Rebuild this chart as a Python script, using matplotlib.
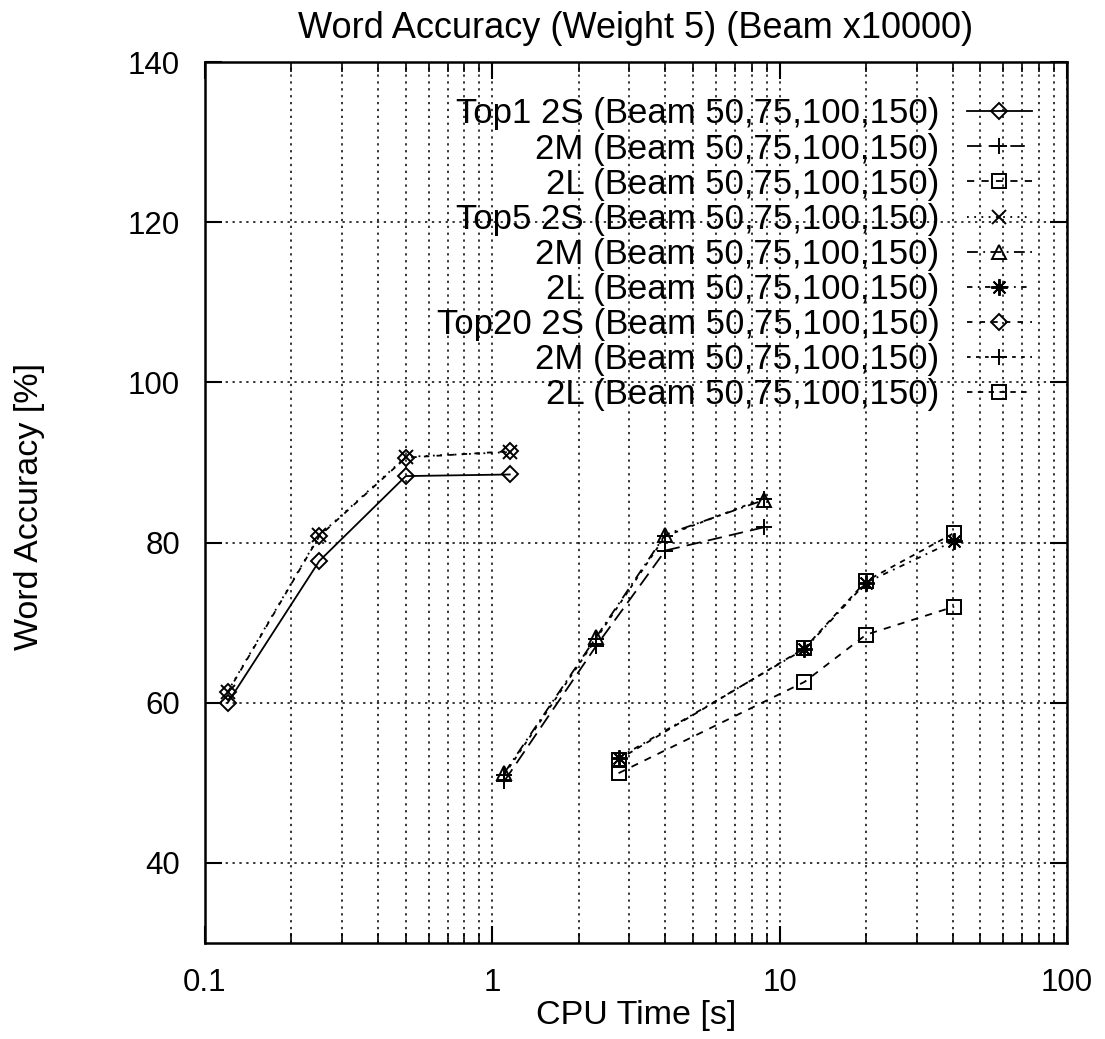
import matplotlib
matplotlib.use("Agg")
import matplotlib.pyplot as plt
from matplotlib.ticker import FixedLocator, FixedFormatter, LogLocator, NullFormatter

plt.rcParams['font.family'] = ['Liberation Sans', 'DejaVu Sans']

# data (CPU time [s], word accuracy [%])
x_2s = [0.12, 0.25, 0.5, 1.15]
x_2m = [1.1, 2.3, 4.0, 8.8]
x_2l = [2.75, 12.2, 20.0, 40.5]

top1_2s = [60.0, 77.7, 88.3, 88.5]
top1_2m = [50.2, 67.1, 79.0, 81.9]
top1_2l = [51.2, 62.6, 68.5, 72.0]
top5_2s = [61.4, 80.9, 90.7, 91.3]
top5_2m = [51.2, 68.2, 81.0, 85.3]
top5_2l = [53.1, 66.7, 75.0, 80.2]
top20_2s = [61.3, 80.8, 90.6, 91.4]
top20_2m = [51.0, 68.0, 80.8, 85.5]
top20_2l = [52.9, 66.8, 75.2, 81.2]

labels = ["Top1 2S (Beam 50,75,100,150)",
          "2M (Beam 50,75,100,150)",
          "2L (Beam 50,75,100,150)",
          "Top5 2S (Beam 50,75,100,150)",
          "2M (Beam 50,75,100,150)",
          "2L (Beam 50,75,100,150)",
          "Top20 2S (Beam 50,75,100,150)",
          "2M (Beam 50,75,100,150)",
          "2L (Beam 50,75,100,150)"]

x_ticks = [0.1, 1, 10, 100]
x_ticklabels = ["0.1", "1", "10", "100"]
y_ticks = [40, 60, 80, 100, 120, 140]

fig = plt.figure(figsize=(11.05, 10.39), dpi=100)
ax = fig.add_axes([0.1855, 0.0924, 0.7801, 0.8479])

series = [
    (x_2s, top1_2s, '-', 'D', 8),
    (x_2m, top1_2m, (0, (8, 4)), '+', 12),
    (x_2l, top1_2l, (0, (4, 4)), 's', 10),
    (x_2s, top5_2s, (0, (1, 3)), 'x', 10),
    (x_2m, top5_2m, (0, (6, 3, 1, 3)), '^', 10),
    (x_2l, top5_2l, (0, (3, 3, 1, 3)), (8, 2, 0), 12),
    (x_2s, top20_2s, (0, (3, 4)), 'D', 8),
    (x_2m, top20_2m, (0, (2, 3)), '+', 12),
    (x_2l, top20_2l, (0, (3, 3)), 's', 10),
]
for (xs, ys, ls, mk, ms), lab in zip(series, labels):
    ax.plot(xs, ys, color='black', linestyle=ls, linewidth=1.3,
            marker=mk, markersize=ms, markerfacecolor='none',
            markeredgecolor='black', markeredgewidth=1.4, label=lab)

ax.set_xscale('log')
ax.set_xlim(0.1, 100)
ax.set_ylim(30, 140)

ax.xaxis.set_major_locator(FixedLocator(x_ticks))
ax.xaxis.set_major_formatter(FixedFormatter(x_ticklabels))
ax.xaxis.set_minor_locator(LogLocator(base=10, subs=range(2, 10)))
ax.xaxis.set_minor_formatter(NullFormatter())
ax.yaxis.set_major_locator(FixedLocator(y_ticks))

ax.tick_params(which='major', direction='in', top=True, right=True,
               length=12, width=1.5, labelsize=22.5, pad=18)
ax.tick_params(which='minor', direction='in', top=True, right=True,
               length=7, width=1.2)
ax.tick_params(axis='y', pad=18)

ax.grid(True, which='major', color='black', linestyle=(0, (1.5, 3)), linewidth=1.1)
ax.grid(True, which='minor', axis='x', color='black', linestyle=(0, (1.5, 3)), linewidth=1.1)
for s in ax.spines.values():
    s.set_linewidth(1.8)

ax.set_title("Word Accuracy (Weight 5) (Beam x10000)", fontsize=26, pad=17)
ax.set_xlabel("CPU Time [s]", fontsize=24.5)
ax.set_ylabel("Word Accuracy [%]", fontsize=24.5)
ax.xaxis.set_label_coords(0.5, -0.082)
ax.xaxis.label.set_va('center')
ax.yaxis.set_label_coords(-0.203, 0.495)
ax.yaxis.label.set_va('center')

ax.legend(loc='upper right', markerfirst=False, frameon=False, fontsize=25,
          handlelength=1.85, handletextpad=0.8, labelspacing=0.06,
          borderaxespad=0.62, borderpad=0.4)

fig.savefig("out.png", dpi=100)
